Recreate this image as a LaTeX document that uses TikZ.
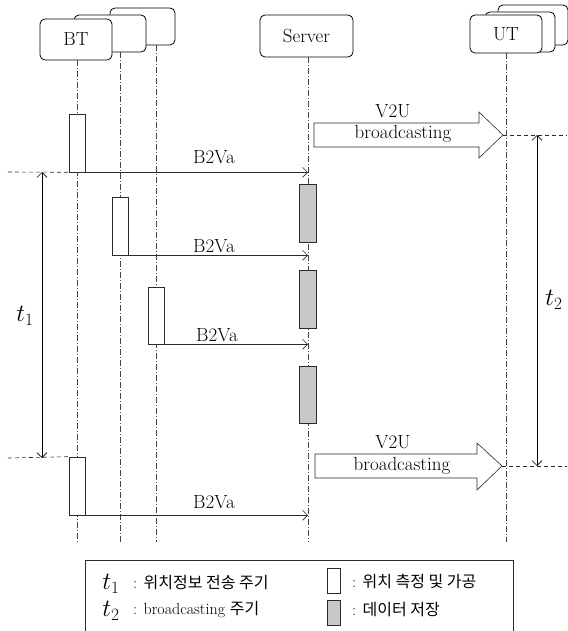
\documentclass[tikz,border=0pt]{standalone}
\usepackage{fontspec}
\usepackage{tikz}
\usetikzlibrary{arrows.meta,positioning,calc}
\newfontfamily\kr{Noto Sans CJK KR}
\definecolor{mLine}{HTML}{2B2B2B}
\definecolor{mLife}{HTML}{444444}
\definecolor{mStore}{HTML}{C8C8C8}
\tikzset{
  >={Straight Barb[length=5pt,width=10pt]},
  head/.style ={rectangle,rounded corners=5pt,draw=black,fill=white,thick,align=center,inner sep=1pt},
  life/.style ={mLife,thin,dash pattern=on 6pt off 2pt on 1pt off 2pt},
  act/.style  ={rectangle,draw=mLine,fill=white,semithick,minimum width=16pt,minimum height=58pt,inner sep=0pt},
  store/.style={rectangle,draw=mLine,fill=mStore,semithick,minimum width=17pt,minimum height=58pt,inner sep=0pt},
  msg/.style  ={->,mLine,semithick},
  period/.style={<->,black,semithick},
  guide/.style={mLine,semithick,dash pattern=on 4pt off 3pt},
  bcast/.style={draw=mLine,fill=white,semithick},
  lbl/.style  ={anchor=base,inner sep=0pt},
}

\begin{document}
\begin{tikzpicture}[x=1pt,y=-1pt,font=\fontsize{19}{21}\selectfont]
  \useasboundingbox (0,0) rectangle (567,631);

  % heads
  \node[head,minimum width=65pt,minimum height=37pt] (bt3) at (142.5,26.5) {};
  \node[head,minimum width=72pt,minimum height=37pt] (bt2) at (110,33.5) {};
  \node[head,minimum width=72pt,minimum height=41pt] (bt) at (76,39.5) {BT};
  \node[head,minimum width=93pt,minimum height=42pt] (srv) at (306.5,36) {Server};
  \node[head,minimum width=70pt,minimum height=40pt] (ut3) at (533,25) {};
  \node[head,minimum width=70pt,minimum height=40pt] (ut2) at (520,32) {};
  \node[head,minimum width=72pt,minimum height=38pt] (ut) at (506,34) {UT};

  % lifelines
  \coordinate (bt2top) at (120,52);
  \coordinate (bt3top) at (156,45);
  \draw[life] (bt.south -| 77,0) -- (77,542);
  \draw[life] (bt2top) -- (120,542);
  \draw[life] (bt3top) -- (156,542);
  \draw[life] (srv.south -| 308,0) -- (308,542);
  \draw[life] (ut.south) -- (506,542);
  \coordinate (sl) at (308,0);
  \coordinate (ul) at (506,0);

  % location measurement
  \node[act] (a1) at (77,143) {};
  \node[act] (a2) at (120,226) {};
  \node[act,minimum height=57pt] (a3) at (156,315.5) {};
  \node[act] (a4) at (77,486) {};

  % data storage
  \node[store] (g1) at (307.5,213) {};
  \node[store] (g2) at (307.5,299) {};
  \node[store,minimum height=57pt] (g3) at (307.5,394.5) {};

  % B2Va messages
  \draw[msg] (a1.south east) -- (a1.south east -| sl);
  \draw[msg] (a2.south east) -- (a2.south east -| sl);
  \draw[msg] (a3.south east) -- (a3.south east -| sl);
  \draw[msg] (a4.south east) -- (a4.south east -| sl);
  \node[lbl] (m1) at (214,164) {B2Va};
  \node[lbl] (m2) at (214,252) {B2Va};
  \node[lbl] (m3) at (217,341) {B2Va};
  \node[lbl] (m4) at (214,508) {B2Va};

  % V2U broadcasting
  \draw[bcast] (314,123) -- (479,123) -- (479,112) -- (503,135)
    coordinate (v1tip) -- (479,158) -- (479,147) -- (314,147) -- cycle;
  \draw[bcast] (315,454) -- (477,454) -- (477,443) -- (502,466)
    coordinate (v2tip) -- (477,490) -- (477,478) -- (315,478) -- cycle;
  \node[lbl] (v1a) at (393,118) {V2U};
  \node[lbl] (v1b) at (403,139) {broadcasting};
  \node[lbl] (v2a) at (393,448) {V2U};
  \node[lbl] (v2b) at (402,470) {broadcasting};

  % periods
  \coordinate (p1a) at (8,172);
  \coordinate (p1b) at (8,458);
  \coordinate (p2a) at (567,135);
  \coordinate (p2b) at (567,466);
  \draw[guide] (p1a) -- (a1.south west);
  \draw[guide] (p1b) -- (a4.north west);
  \draw[guide] (v1tip) -- (p2a);
  \draw[guide] (v2tip) -- (p2b);
  \draw[period] (42,172) -- (42,458);
  \draw[period] (537,135) -- (537,466);
  \node[font=\fontsize{27}{29}\selectfont] (t1) at (25,316) {$t_1$};
  \node[font=\fontsize{27}{29}\selectfont,inner sep=1pt] (t2) at (554,300) {$t_2$};

  % legend
  \node[draw=mLine,semithick,minimum width=428pt,minimum height=80pt,inner sep=0pt] (leg) at (299,600) {};
  \node[font=\fontsize{23}{25}\selectfont] (k1) at (111,584) {$t_1$};
  \node[font=\fontsize{23}{25}\selectfont] (k2) at (111,611) {$t_2$};
  \node[anchor=west,inner sep=0pt,font=\fontsize{16}{18}\selectfont] (k1t) at (133,583) {: {\kr\fontsize{16}{18}\selectfont 위치정보 전송 주기}};
  \node[anchor=west,inner sep=0pt,font=\fontsize{16}{18}\selectfont] (k2t) at (133,610) {: broadcasting {\kr\fontsize{16}{18}\selectfont 주기}};
  \node[act,minimum width=13pt,minimum height=25pt] (k3) at (333.5,580.5) {};
  \node[store,minimum width=13pt,minimum height=25pt] (k4) at (333.5,612.5) {};
  \node[anchor=west,inner sep=0pt,font=\fontsize{16}{18}\selectfont] (k3t) at (352,581) {: {\kr\fontsize{16}{18}\selectfont 위치 측정 및 가공}};
  \node[anchor=west,inner sep=0pt,font=\fontsize{16}{18}\selectfont] (k4t) at (352,610) {: {\kr\fontsize{16}{18}\selectfont 데이터 저장}};
\end{tikzpicture}
\end{document}
